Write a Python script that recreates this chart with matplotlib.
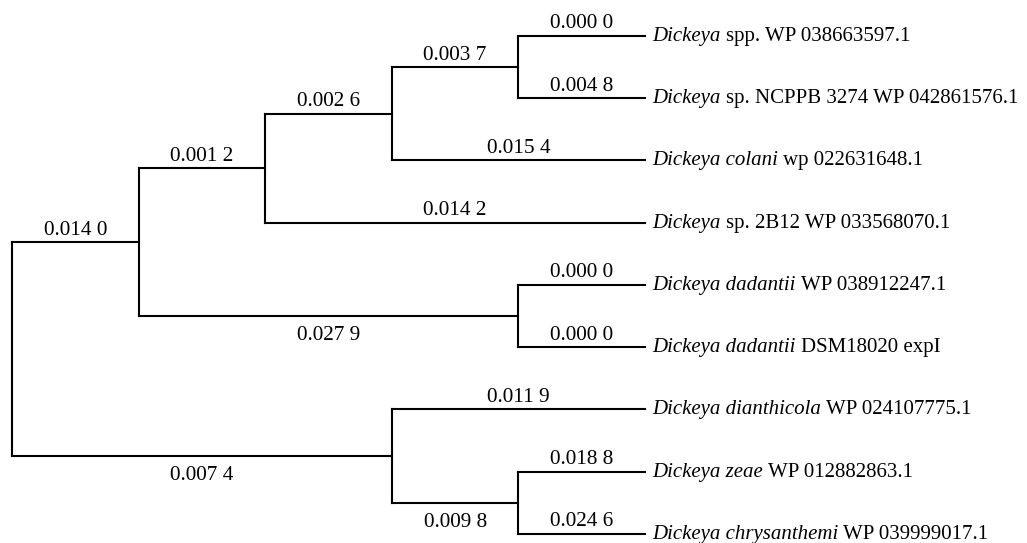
import matplotlib
matplotlib.use('Agg')
import matplotlib.pyplot as plt
from matplotlib.collections import LineCollection

plt.rcParams['font.family'] = 'Liberation Serif'

# ---- data ----
leaf_italic = ["Dickeya", "Dickeya", "Dickeya colani", "Dickeya", "Dickeya dadantii",
               "Dickeya dadantii", "Dickeya dianthicola", "Dickeya zeae", "Dickeya chrysanthemi"]
leaf_rest = ["spp. WP 038663597.1", "sp. NCPPB 3274 WP 042861576.1", "wp 022631648.1",
             "sp. 2B12 WP 033568070.1", "WP 038912247.1", "DSM18020 expI",
             "WP 024107775.1", "WP 012882863.1", "WP 039999017.1"]
leaf_values = ["0.000 0", "0.004 8", "0.015 4", "0.014 2", "0.000 0", "0.000 0",
               "0.011 9", "0.018 8", "0.024 6"]
leaf_side = ["above"] * 9

node_names = ["D", "C", "B", "E", "A", "G", "F", "root"]
node_children = [[0, 1], ["D", 2], ["C", 3], [4, 5], ["B", "E"], [7, 8], [6, "G"], ["A", "F"]]
node_values = ["0.003 7", "0.002 6", "0.001 2", "0.027 9", "0.014 0", "0.009 8", "0.007 4", ""]
node_side = ["above", "above", "above", "below", "above", "below", "below", "above"]

# ---- layout (cladogram, tips aligned) ----
children = dict(zip(node_names, node_children))
height = {}
ypos = {}

def compute(n):
    if isinstance(n, int):
        height[n] = 0
        ypos[n] = n
        return
    for c in children[n]:
        compute(c)
    height[n] = 1 + max(height[c] for c in children[n])
    ypos[n] = sum(ypos[c] for c in children[n]) / len(children[n])

compute("root")
H = height["root"]
xpos = {k: H - v for k, v in height.items()}
parent = {}
for n in node_names:
    for c in children[n]:
        parent[c] = n

fig = plt.figure(figsize=(10.27, 5.43), dpi=100)
ax = fig.add_axes([0, 0, 1, 1])
ax.set_xlim(-0.0948, 8.017)
ax.set_ylim(8.145, -0.578)
ax.axis('off')

segs = []
for c, p in parent.items():
    segs.append([(xpos[p], ypos[c]), (xpos[c], ypos[c])])
for n in node_names:
    ys = [ypos[c] for c in children[n]]
    segs.append([(xpos[n], min(ys)), (xpos[n], max(ys))])
lc = LineCollection(segs, colors='black', linewidths=1.5, capstyle='projecting')
ax.add_collection(lc)

fs = 15.3
lfs = 15.0
PX = 0.72  # points per pixel

def branch_label(node, text, side):
    p = parent[node]
    xm = (xpos[p] + xpos[node]) / 2
    dy = 7.5 * PX if side == "above" else -24 * PX
    ax.annotate(text, xy=(xm, ypos[node]), xytext=(0, dy), textcoords='offset points',
                ha='center', va='baseline', fontsize=fs)

renderer = fig.canvas.get_renderer()
for i in range(len(leaf_italic)):
    branch_label(i, leaf_values[i], leaf_side[i])
    x0 = 7 * PX
    dy = -5 * PX
    t = ax.annotate(leaf_italic[i], xy=(xpos[i], ypos[i]), xytext=(x0, dy),
                    textcoords='offset points', ha='left', va='baseline',
                    fontsize=lfs, style='italic')
    w = t.get_window_extent(renderer).width * PX
    ax.annotate(leaf_rest[i], xy=(xpos[i], ypos[i]), xytext=(x0 + w + 0.25 * lfs, dy),
                textcoords='offset points', ha='left', va='baseline', fontsize=lfs)

for n, v, s in zip(node_names, node_values, node_side):
    if v:
        branch_label(n, v, s)

fig.savefig('out.png', dpi=100)
